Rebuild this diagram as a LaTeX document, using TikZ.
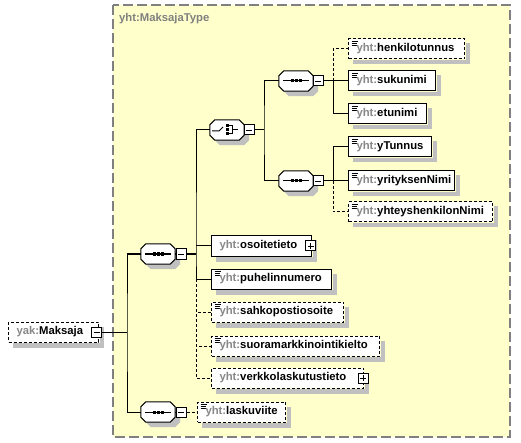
\documentclass[tikz,border=0pt]{standalone}
\usepackage{fontspec}
\setmainfont{Liberation Sans}
\usetikzlibrary{calc}
\definecolor{bgyellow}{RGB}{255,255,204}
\definecolor{framegray}{RGB}{128,128,128}
\definecolor{pregray}{RGB}{136,136,136}
\definecolor{shadowgray}{RGB}{192,192,192}
\newcommand\pre[1]{\textcolor{pregray}{#1}}
\newcommand\octagon[1]{%
  \fill[shadowgray] ($(#1.north west)+(10,5)$) -- ($(#1.north east)+(0,5)$) -- ($(#1.north east)+(5,10)$) -- ($(#1.south east)+(5,0)$) -- ($(#1.south east)+(0,5)$) -- ($(#1.south west)+(10,5)$) -- ($(#1.south west)+(5,0)$) -- ($(#1.north west)+(5,10)$) -- cycle;
  \draw[line width=1pt, fill=white] ($(#1.north west)+(5,0)$) -- ($(#1.north east)+(-5,0)$) -- ($(#1.north east)+(0,5)$) -- ($(#1.south east)+(0,-5)$) -- ($(#1.south east)+(-5,0)$) -- ($(#1.south west)+(5,0)$) -- ($(#1.south west)+(0,-5)$) -- ($(#1.north west)+(0,5)$) -- cycle;}
\newcommand\seqsym[1]{%
  \draw[line width=1pt] ($(#1.center)+(-13,0)$) -- ($(#1.center)+(13,0)$);
  \foreach \d in {-4,0,4} \fill ($(#1.center)+(\d-1.5,-1.5)$) rectangle ++(3,3);}
\newcommand\chsym[1]{%
  \draw[line width=1pt] ($(#1.center)+(-15,1)$) -- ($(#1.center)+(-8,1)$) -- ($(#1.center)+(-4,-3)$);
  \foreach \d in {-4,0,4} \fill ($(#1.center)+(-1.5,\d-1.5)$) rectangle ++(3,3);
  \draw[line width=1pt] ($(#1.center)+(1.5,-4)$) -- ($(#1.center)+(5,-4)$) -- ($(#1.center)+(5,4)$) -- ($(#1.center)+(1.5,4)$);
  \draw[line width=1pt] ($(#1.center)+(5,0)$) -- ($(#1.center)+(11,0)$);}
\newcommand\shadowL[1]{%
  \fill[shadowgray] ($(#1.north east)+(0.5,5)$) rectangle ($(#1.south east)+(5,5)$);
  \fill[shadowgray] ($(#1.south west)+(5,0.5)$) rectangle ($(#1.south east)+(5,5)$);}
\begin{document}
\begin{tikzpicture}[x=1pt,y=-1pt,
  font=\fontsize{11.3}{13}\selectfont\bfseries,
  conn/.style={line width=1pt},
  optconn/.style={line width=1pt, dash pattern=on 3pt off 2pt},
  el/.style={draw, line width=1pt, fill=white, minimum height=20pt, inner xsep=8pt, inner ysep=0pt, anchor=west, align=left},
  optel/.style={el, dash pattern=on 3pt off 2pt},
  simple/.style={path picture={\draw[line width=0.7pt,solid,black]
     ([shift={(3pt,-2.5pt)}]path picture bounding box.north west) -- ++(6pt,0pt)
     ([shift={(3pt,-4.5pt)}]path picture bounding box.north west) -- ++(5pt,0pt)
     ([shift={(3pt,-6.5pt)}]path picture bounding box.north west) -- ++(5pt,0pt);}},
  comp/.style={minimum width=34pt, minimum height=20pt, inner sep=0pt},
  mb/.style={draw, solid, line width=1pt, fill=white, minimum size=10pt, inner sep=0pt,
     path picture={\draw[line width=0.8pt] ([xshift=-3pt]path picture bounding box.center) -- ([xshift=3pt]path picture bounding box.center);}},
  pb/.style={draw, solid, line width=1pt, fill=white, minimum size=10pt, inner sep=0pt,
     path picture={\draw[line width=0.8pt] ([xshift=-3pt]path picture bounding box.center) -- ([xshift=3pt]path picture bounding box.center)
        ([yshift=-3pt]path picture bounding box.center) -- ([yshift=3pt]path picture bounding box.center);}}
]
\useasboundingbox (0,0) rectangle (521,443);
\draw[framegray, line width=1.2pt, dash pattern=on 10pt off 4pt, fill=bgyellow] (113,5) rectangle (510,437);
\node[anchor=west, text=framegray, inner sep=0pt] (title) at (119,19) {yht:MaksajaType};

% root
\node[optel, text width=74pt] (rt) at (8,332) {\pre{yak:}Maksaja};

% compositors
\node[comp] (s1) at (158,254) {}; \octagon{s1} \seqsym{s1}
\node[mb] (s1m) at (181,254) {};
\node[comp] (s2) at (158,412) {}; \octagon{s2} \seqsym{s2}
\node[mb] (s2m) at (181,412) {};
\node[comp] (c) at (227,130) {}; \octagon{c} \chsym{c}
\node[mb] (cm) at (249,130) {};
\node[comp] (s3) at (296,81) {}; \octagon{s3} \seqsym{s3}
\node[mb] (s3m) at (318,81) {};
\node[comp] (s4) at (296,181) {}; \octagon{s4} \seqsym{s4}
\node[mb] (s4m) at (318,181) {};

% elements right column
\node[optel, simple, text width=100pt] (henk) at (348,49) {\pre{yht:}henkilotunnus};
\node[el, simple, text width=71pt] (suk) at (348,81) {\pre{yht:}sukunimi};
\node[el, simple, text width=62pt] (etu) at (348,114) {\pre{yht:}etunimi};
\node[el, simple, text width=67pt] (ytu) at (348,147) {\pre{yht:}yTunnus};
\node[el, simple, text width=90pt] (yri) at (348,181) {\pre{yht:}yrityksenNimi};
\node[optel, simple, text width=128pt] (yhh) at (348,212) {\pre{yht:}yhteyshenkilonNimi};

% elements middle column
\node[el, text width=84pt] (oso) at (211,246) {\pre{yht:}osoitetieto};
\node[el, simple, text width=104pt] (puh) at (211,279) {\pre{yht:}puhelinnumero};
\node[optel, simple, text width=116pt] (sah) at (211,312) {\pre{yht:}sahkopostiosoite};
\node[optel, simple, text width=152pt] (suo) at (211,346) {\pre{yht:}suoramarkkinointikielto};
\node[optel, text width=136pt] (ver) at (211,378) {\pre{yht:}verkkolaskutustieto};
\node[optel, simple, text width=72pt] (lask) at (197,412) {\pre{yht:}laskuviite};

% shadows of element boxes (drawn beside the boxes)
\foreach \n in {rt,henk,suk,etu,ytu,yri,yhh,oso,puh,sah,suo,ver,lask} {\shadowL{\n}}

% expand / collapse buttons
\node[mb] (rm) at (96.5,332) {};
\node[pb] (osop) at (310.5,246) {};
\node[pb] (verp) at (363,378) {};

% junctions
\coordinate (j1) at (127,332);
\coordinate (j2) at (196,254);
\coordinate (j3) at (264,130);
\coordinate (j4) at (333,81);
\coordinate (j5) at (333,181);

% connectors
\draw[conn] (rm.east) -- (j1);
\draw[conn] (s1.west) -| (j1) |- (s2.west);
\draw[conn] (s1.east) -- (s1m.west);
\draw[conn] (s2.east) -- (s2m.west);
\draw[optconn] (s2m.east) -- (lask.west);
\draw[conn] (s1m.east) -- (j2);
\draw[conn] (c.west) -| (j2) |- (puh.west);
\draw[conn] (j2 |- oso.west) -- (oso.west);
\draw[optconn] (j2 |- puh.west) |- (sah.west);
\draw[optconn] (j2 |- puh.west) |- (suo.west);
\draw[optconn] (j2 |- puh.west) |- (ver.west);
\draw[conn] (c.east) -- (cm.west);
\draw[conn] (cm.east) -- (j3);
\draw[conn] (s3.west) -| (j3) |- (s4.west);
\draw[conn] (s3.east) -- (s3m.west);
\draw[conn] (s3m.east) -- (suk.west);
\draw[optconn] (j4) |- (henk.west);
\draw[conn] (j4) |- (etu.west);
\draw[conn] (s4.east) -- (s4m.west);
\draw[conn] (s4m.east) -- (yri.west);
\draw[conn] (j5) |- (ytu.west);
\draw[optconn] (j5) |- (yhh.west);
\end{tikzpicture}
\end{document}
